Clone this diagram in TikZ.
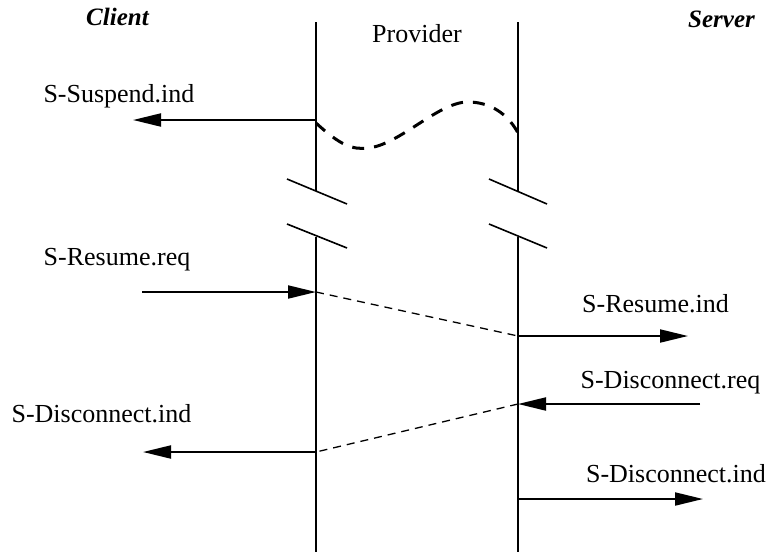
\documentclass[tikz,border=0pt]{standalone}
\usepackage{fontspec}
\setmainfont{Liberation Serif}
\usetikzlibrary{arrows.meta}
\begin{document}
\begin{tikzpicture}[x=1pt,y=-1pt,
  lbl/.style={anchor=base,inner sep=0pt,font=\fontsize{26}{30}\selectfont},
  hdr/.style={anchor=base,inner sep=0pt,font=\fontsize{25}{30}\selectfont\bfseries\itshape},
  life/.style={line width=2pt},
  brk/.style={line width=1.6pt},
  msg/.style={line width=2pt,-{Triangle[length=28pt,width=13pt]}},
  link/.style={line width=1.3pt,dash pattern=on 8pt off 6pt},
  lost/.style={line width=3pt,dash pattern=on 12pt off 10pt}]
\useasboundingbox (0,0) rectangle (770,552);
% headers
\node[hdr] (client) at (117.5,25) {Client};
\node[hdr] (server) at (721.5,27) {Server};
\node[lbl] (provider) at (417,42) {Provider};
% lifelines
\coordinate (Lt) at (316,22);
\coordinate (Lb1) at (316,191);
\coordinate (Lb2) at (316,237);
\coordinate (Le) at (316,552);
\coordinate (Rt) at (518,22);
\coordinate (Rb1) at (518,191);
\coordinate (Rb2) at (518,237);
\coordinate (Re) at (518,552);
\draw[life] (Lt) -- (Lb1);
\draw[life] (Lb2) -- (Le);
\draw[life] (Rt) -- (Rb1);
\draw[life] (Rb2) -- (Re);
% break marks
\coordinate (ba1) at (287,179); \coordinate (ba2) at (347,204);
\coordinate (bb1) at (287,224); \coordinate (bb2) at (347,248);
\coordinate (bc1) at (489,179); \coordinate (bc2) at (547,204);
\coordinate (bd1) at (489,224); \coordinate (bd2) at (547,248);
\draw[brk] (ba1) -- (ba2);
\draw[brk] (bb1) -- (bb2);
\draw[brk] (bc1) -- (bc2);
\draw[brk] (bd1) -- (bd2);
% suspend
\coordinate (s1) at (316,120);
\coordinate (s0) at (133,120);
\draw[msg] (s1) -- (s0);
\node[lbl] (susp) at (119,102) {S-Suspend.ind};
\coordinate (w0) at (316,123);
\coordinate (w1) at (518,133);
\draw[lost] (w0) .. controls (340,145) and (352,150) .. (368,148)
  .. controls (400,145) and (440,100) .. (470,102)
  .. controls (495,103) and (510,118) .. (w1);
% resume
\coordinate (r0) at (142,292);
\coordinate (r1) at (316,292);
\coordinate (r2) at (518,336);
\coordinate (r3) at (688,336);
\node[lbl] (rreq) at (117,265) {S-Resume.req};
\node[lbl] (rind) at (655.5,312) {S-Resume.ind};
\draw[msg] (r0) -- (r1);
\draw[link] (r1) -- (r2);
\draw[msg] (r2) -- (r3);
% disconnect
\coordinate (d0) at (700,404);
\coordinate (d1) at (518,404);
\coordinate (d2) at (316,452);
\coordinate (d3) at (143,452);
\coordinate (e0) at (518,499);
\coordinate (e1) at (703,499);
\node[lbl] (dreq) at (670.5,388) {S-Disconnect.req};
\node[lbl] (dindl) at (101.5,422) {S-Disconnect.ind};
\node[lbl] (dindr) at (676,482) {S-Disconnect.ind};
\draw[msg] (d0) -- (d1);
\draw[link] (d1) -- (d2);
\draw[msg] (d2) -- (d3);
\draw[msg] (e0) -- (e1);
\end{tikzpicture}
\end{document}
